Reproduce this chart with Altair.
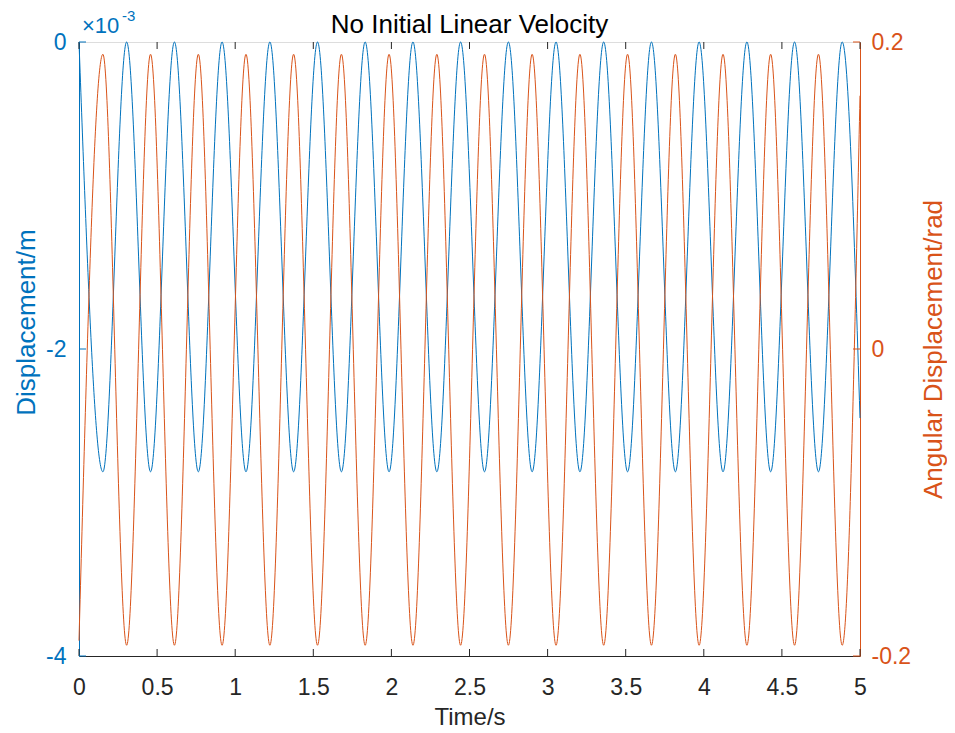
import altair as alt
import pandas as pd

# Extreme points (peaks / troughs), plus end point at t = 5 s
time_s = [0.000, 0.153, 0.305, 0.458, 0.611, 0.764, 0.916, 1.069, 1.222, 1.374,
          1.527, 1.680, 1.832, 1.985, 2.138, 2.291, 2.443, 2.596, 2.749, 2.901,
          3.054, 3.207, 3.359, 3.512, 3.665, 3.818, 3.970, 4.123, 4.276, 4.428,
          4.581, 4.734, 4.886, 5.000]
disp_m = [0.0, -0.0028, 0.0, -0.0028, 0.0, -0.0028, 0.0, -0.0028, 0.0, -0.0028,
          0.0, -0.0028, 0.0, -0.0028, 0.0, -0.0028, 0.0, -0.0028, 0.0, -0.0028,
          0.0, -0.0028, 0.0, -0.0028, 0.0, -0.0028, 0.0, -0.0028, 0.0, -0.0028,
          0.0, -0.0028, 0.0, -0.00245]
angle_rad = [-0.190, 0.192, -0.193, 0.192, -0.193, 0.192, -0.193, 0.192, -0.193, 0.192,
             -0.193, 0.192, -0.193, 0.192, -0.193, 0.192, -0.193, 0.192, -0.193, 0.192,
             -0.193, 0.192, -0.193, 0.192, -0.193, 0.192, -0.193, 0.192, -0.193, 0.192,
             -0.193, 0.192, -0.193, 0.165]

x_ticks = [0, 0.5, 1, 1.5, 2, 2.5, 3, 3.5, 4, 4.5, 5]
left_ticks = [-0.004, -0.002, 0.0]
right_ticks = [-0.2, 0.0, 0.2]

BLUE = "#0072BD"
ORANGE = "#D95319"
DARK = "#262626"
FONT = "Liberation Sans"
W, H = 781, 614

df = pd.DataFrame({"t": time_s, "d": disp_m, "a": angle_rad})
xt = pd.DataFrame({"t": x_ticks})
lt = pd.DataFrame({"d": left_ticks})
rt = pd.DataFrame({"a": right_ticks})

xscale = alt.Scale(domain=[0, 5], nice=False, zero=False)
lscale = alt.Scale(domain=[-0.004, 0], nice=False, zero=False)
rscale = alt.Scale(domain=[-0.2, 0.2], nice=False, zero=False)

x_axis = alt.Axis(values=x_ticks, title="Time/s", ticks=False, grid=False,
                  domainColor=DARK, labelColor=DARK, titleColor=DARK,
                  labelFontSize=23, titleFontSize=24, labelPadding=20, titlePadding=6,
                  labelFlush=False, labelExpr="datum.value + ''",
                  labelFont=FONT, titleFont=FONT, titleFontWeight="normal")

l_axis = alt.Axis(values=left_ticks, title="Displacement/m", orient="left", ticks=False,
                  grid=False, domainColor=BLUE, labelColor=BLUE, titleColor=BLUE,
                  labelFontSize=23, titleFontSize=26, labelPadding=13, titlePadding=6,
                  titleY=280,
                  labelFlush=False, labelExpr="round(datum.value * 1000) + ''",
                  labelFont=FONT, titleFont=FONT, titleFontWeight="normal")

r_axis = alt.Axis(values=right_ticks, title="Angular Displacement/rad", orient="right",
                  ticks=False, grid=False, domainColor=ORANGE, labelColor=ORANGE,
                  titleColor=ORANGE, labelFontSize=23, titleFontSize=26, labelPadding=11,
                  titlePadding=10, titleAngle=270, titleBaseline="top",
                  labelFlush=False, labelExpr="datum.value + ''",
                  labelFont=FONT, titleFont=FONT, titleFontWeight="normal")

X = alt.X("t:Q", scale=xscale, axis=x_axis)
YL = alt.Y("d:Q", scale=lscale, axis=l_axis)
YR = alt.Y("a:Q", scale=rscale, axis=r_axis)

blue_line = alt.Chart(df).mark_line(color=BLUE, strokeWidth=1, interpolate="monotone").encode(
    x=X, y=YL,
)

x_bottom_ticks = alt.Chart(xt).mark_rule(color=DARK, strokeWidth=1).encode(
    x=X, y=alt.value(H), y2=alt.value(H - 7),
)
x_top_ticks = alt.Chart(xt).mark_rule(color=DARK, strokeWidth=1).encode(
    x=X, y=alt.value(0), y2=alt.value(7),
)
l_tick_marks = alt.Chart(lt).mark_rule(color=BLUE, strokeWidth=1).encode(
    y=YL, x=alt.value(0), x2=alt.value(7),
)

exp_base = alt.Chart(lt.tail(1)).mark_text(
    text="\u00d710", color=BLUE, font=FONT, fontSize=22, align="left", baseline="alphabetic"
).encode(x=alt.value(3), y=alt.value(-9))
exp_sup = alt.Chart(lt.tail(1)).mark_text(
    text="-3", color=BLUE, font=FONT, fontSize=15, align="left", baseline="alphabetic"
).encode(x=alt.value(43), y=alt.value(-21))

left = alt.layer(blue_line, x_bottom_ticks, x_top_ticks, l_tick_marks, exp_base, exp_sup)

orange_line = alt.Chart(df).mark_line(color=ORANGE, strokeWidth=1, interpolate="monotone").encode(
    x=X, y=YR,
)
r_tick_marks = alt.Chart(rt).mark_rule(color=ORANGE, strokeWidth=1).encode(
    y=YR, x=alt.value(W), x2=alt.value(W - 7),
)
right = alt.layer(orange_line, r_tick_marks)

chart = alt.layer(left, right).resolve_scale(y="independent").properties(
    width=W, height=H,
    padding={"left": 5, "top": 1, "right": 0, "bottom": 0},
    title=alt.TitleParams("No Initial Linear Velocity", font=FONT, fontSize=26,
                          fontWeight="normal", color="#000000", offset=-29, frame="group"),
).configure_view(stroke=DARK, strokeWidth=1).configure(background="white")

chart.save("out.html", embed_options={"renderer": "svg", "actions": False})
